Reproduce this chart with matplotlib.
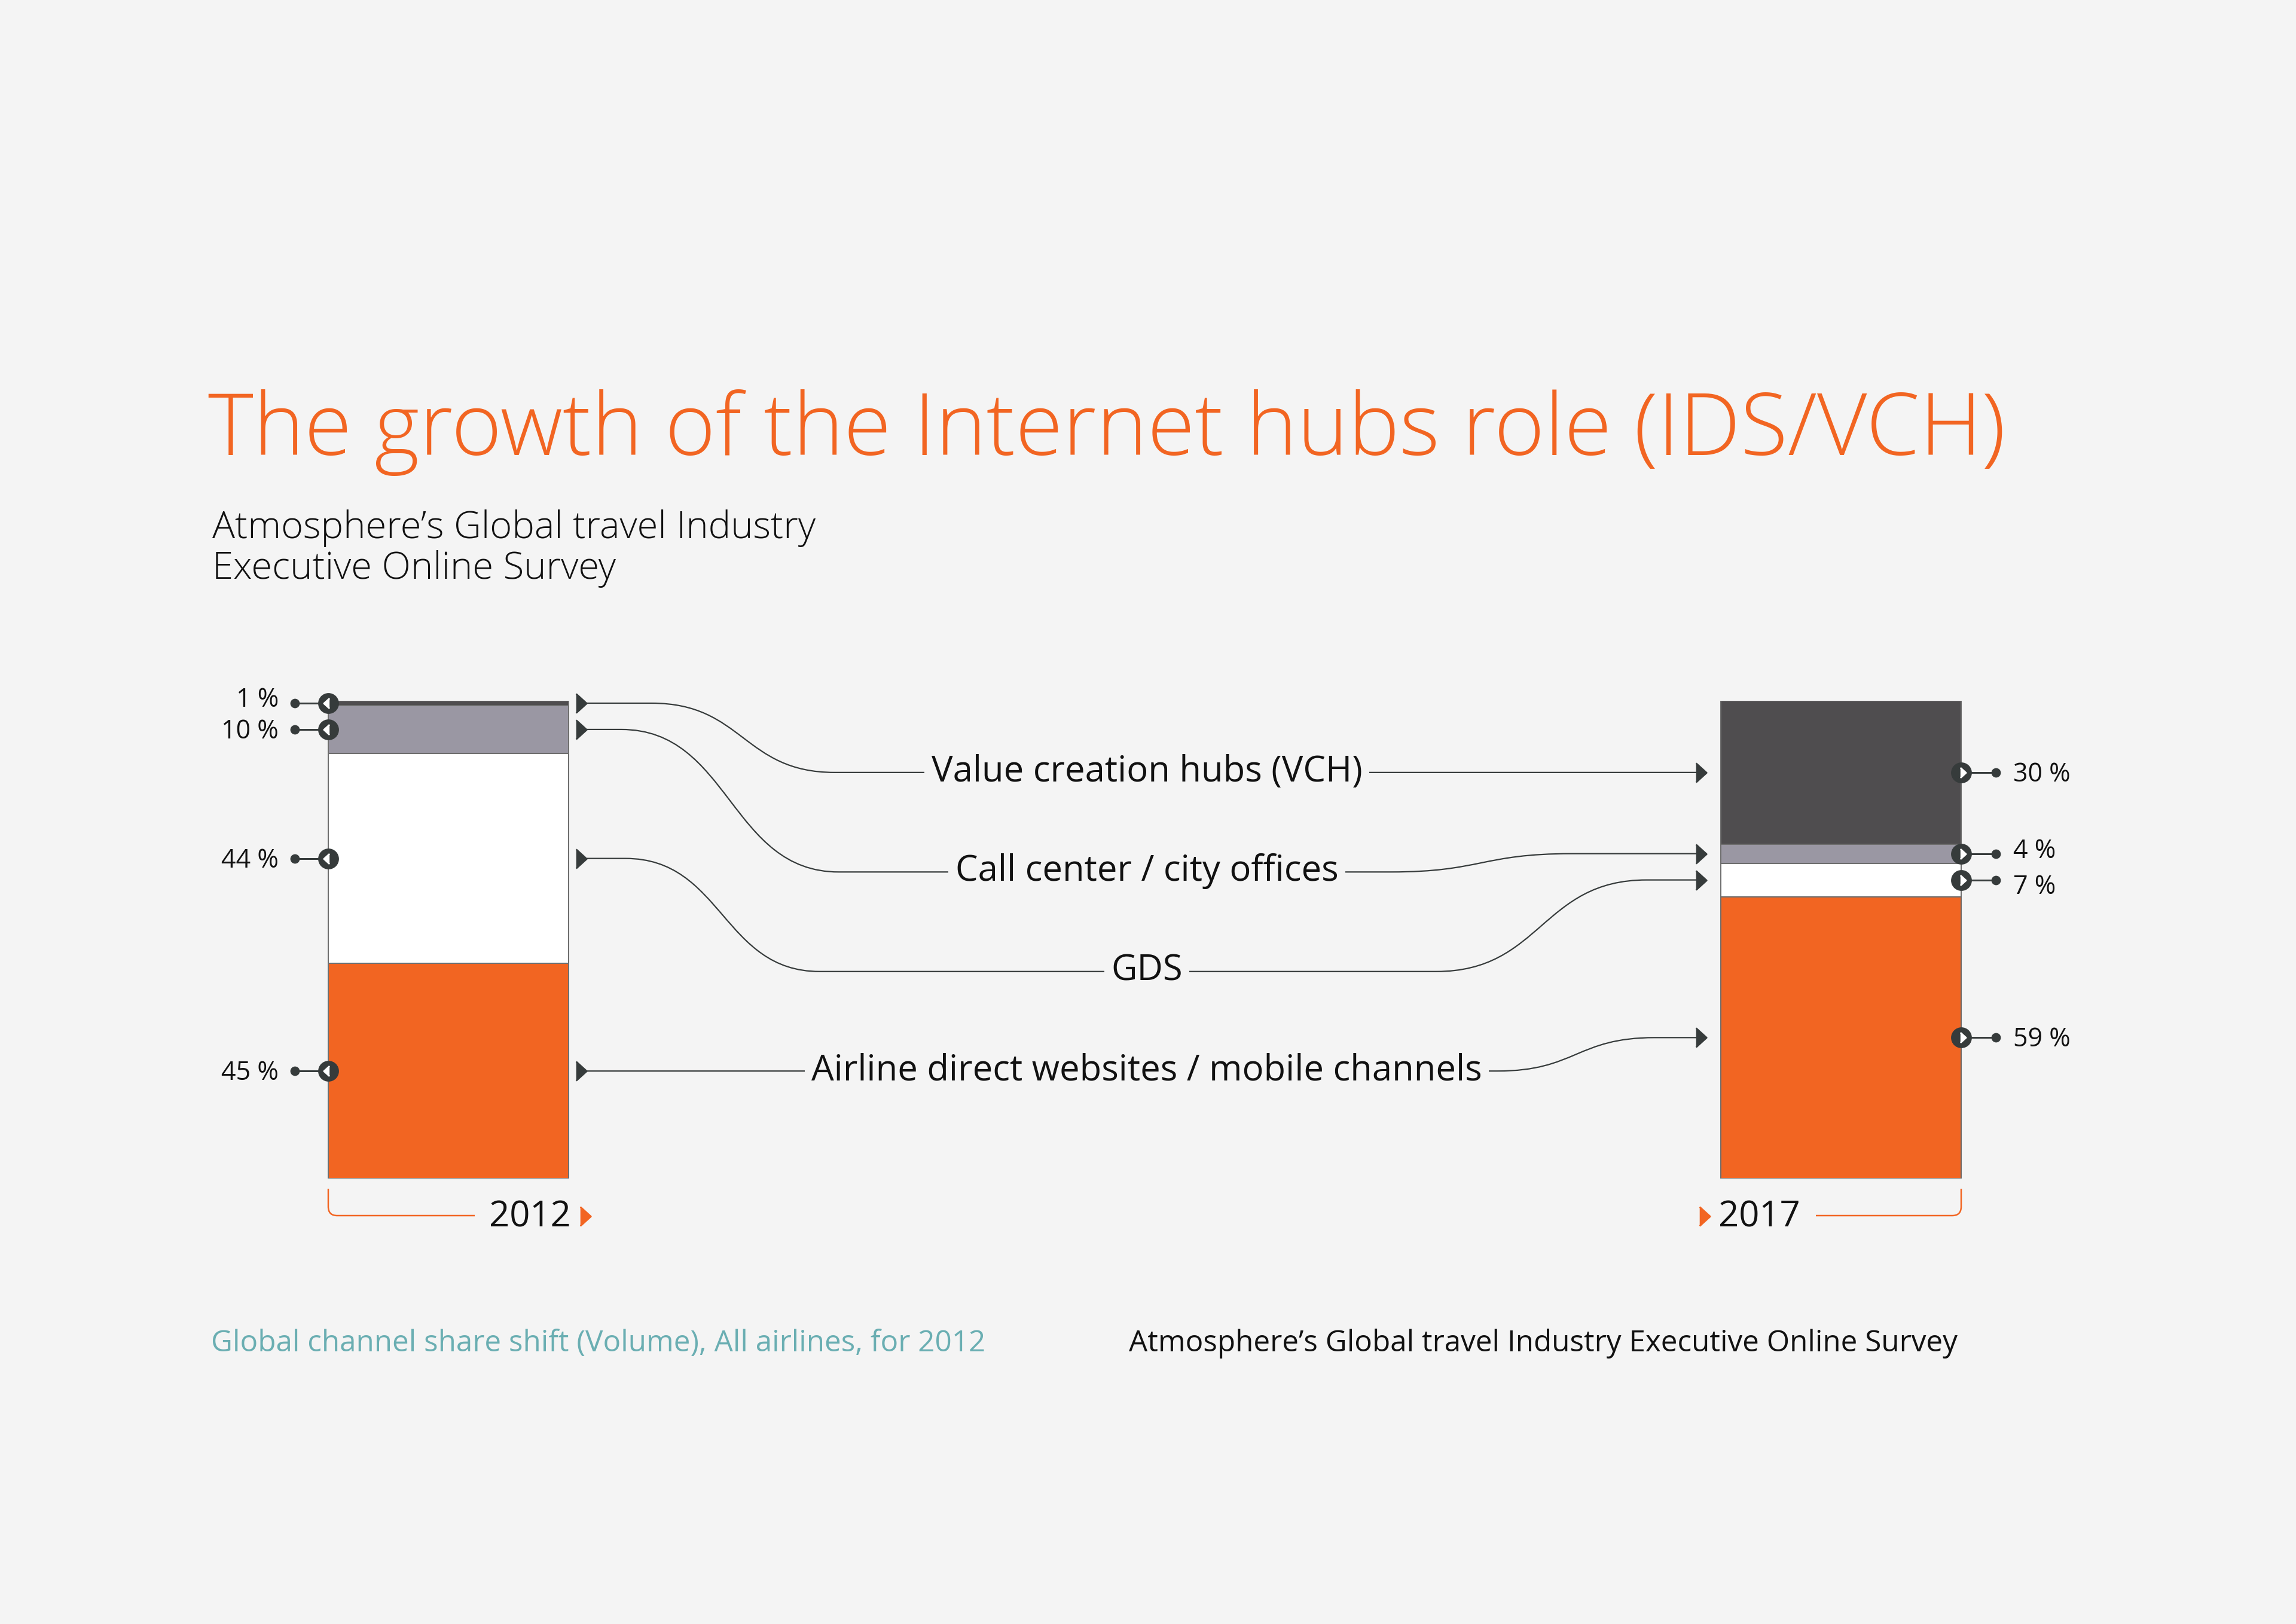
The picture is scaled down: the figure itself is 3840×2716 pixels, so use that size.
import numpy as np
import matplotlib.pyplot as plt
from matplotlib.path import Path
from matplotlib.patches import PathPatch

# data
years = ["2012", "2017"]
channels = ["Airline direct websites / mobile channels", "GDS",
            "Call center / city offices", "Value creation hubs (VCH)"]
share_2012 = [45, 44, 10, 1]
share_2017 = [59, 7, 4, 30]
seg_colors = ["#f26522", "#ffffff", "#9a97a3", "#4f4d4f"]

title = "The growth of the Internet hubs role (IDS/VCH)"
subtitle = ["Atmosphere\u2019s Global travel Industry", "Executive Online Survey"]
foot_left = "Global channel share shift (Volume), All airlines, for 2012"
foot_right = "Atmosphere\u2019s Global travel Industry Executive Online Survey"

W, H, DPI = 3840, 2716, 200
BG = "#f4f4f4"
DARK = "#363b3b"
ORANGE = "#f26522"
FONT = "Open Sans"

bar_left = [549, 2878]
bar_w = 402
bar_top, bar_bot = 1172, 1971


def pt(px):
    return px * 72.0 / DPI


fig = plt.figure(figsize=(W / DPI, H / DPI), dpi=DPI, facecolor=BG)
ax = fig.add_axes([0, 0, 1, 1])
ax.set_xlim(0, W)
ax.set_ylim(H, 0)
ax.axis('off')
bx = fig.add_axes([0, (H - bar_bot) / H, 1, (bar_bot - bar_top) / H])
bx.set_xlim(0, W)
bx.set_ylim(0, 100)
bx.axis('off')

# stacked bars
centers = []
for xl, vals in zip(bar_left, [share_2012, share_2017]):
    vals = np.array(vals, dtype=float)
    bottoms = np.concatenate([[0], np.cumsum(vals)[:-1]])
    bx.bar([xl + bar_w / 2] * len(vals), vals, bottom=bottoms, width=bar_w,
           color=seg_colors, edgecolor="#6e6e6e", linewidth=pt(2), zorder=2)
    centers.append(bottoms + vals / 2)
c12, c17 = centers

tri_l = [(0.55, -1), (-0.55, 0), (0.55, 1)]
tri_r = [(-0.55, -1), (0.55, 0), (-0.55, 1)]

# value markers on the outer sides
nudge_12 = [0, 0, 0, 1.1]
nudge_17 = [0, -1.1, 0.9, 0]
for side in range(2):
    cs = c12 if side == 0 else c17
    vals = share_2012 if side == 0 else share_2017
    nud = nudge_12 if side == 0 else nudge_17
    edge = bar_left[0] if side == 0 else bar_left[1] + bar_w
    dot = edge - 56 if side == 0 else edge + 58
    for c, v, n in zip(cs, vals, nud):
        bx.plot([dot, edge], [c, c], color=DARK, lw=pt(3), zorder=4, clip_on=False)
        bx.plot(dot, c, 'o', ms=pt(13), color=DARK, zorder=4, clip_on=False)
        bx.plot(edge, c, 'o', ms=pt(32), color=DARK, zorder=5, clip_on=False)
        bx.plot(edge - 3 if side == 0 else edge + 3, c,
                marker=tri_l if side == 0 else tri_r, ms=pt(17),
                color='white', zorder=6, clip_on=False)
        if side == 0:
            bx.annotate(f"{v} %", (dot - 27, c + n), xytext=(0, -pt(15)),
                        textcoords='offset points', ha='right', va='baseline',
                        fontsize=15.5, family=FONT, color='#111111',
                        annotation_clip=False)
        else:
            bx.annotate(f"{v} %", (dot + 29, c + n), xytext=(0, -pt(15)),
                        textcoords='offset points', ha='left', va='baseline',
                        fontsize=15.5, family=FONT, color='#111111',
                        annotation_clip=False)

# connectors between the two bars
row_y = np.linspace(c17[3], c12[0], 4)
order = [3, 2, 1, 0]
left_curve = [(1090, 1396), (1039, 1403), (1046, 1371), (1060, 1330)]
right_curve = [(2400, 2700), (2326, 2629), (2402, 2754), (2504, 2768)]
x_start, x_end = 982, 2840
text_x = 1918


def s_curve(x0, y0, x1, y1):
    k = 0.5 * (x1 - x0)
    return [(x0 + k, y0), (x1 - k, y1), (x1, y1)]


for r, k in enumerate(order):
    y0, ym, y1 = c12[k], row_y[r], c17[k]
    (a0, a1), (b0, b1) = left_curve[r], right_curve[r]
    verts = [(x_start, y0), (a0, y0)] + s_curve(a0, y0, a1, ym) + [(b0, ym)] \
        + s_curve(b0, ym, b1, y1) + [(x_end, y1)]
    codes = [Path.MOVETO, Path.LINETO, Path.CURVE4, Path.CURVE4, Path.CURVE4,
             Path.LINETO, Path.CURVE4, Path.CURVE4, Path.CURVE4, Path.LINETO]
    bx.add_patch(PathPatch(Path(verts, codes), fc='none', ec=DARK, lw=pt(2.2),
                           zorder=3, clip_on=False))
    bx.plot(972, y0, marker=tri_r, ms=pt(32), color=DARK, zorder=4, clip_on=False)
    bx.plot(2845, y1, marker=tri_r, ms=pt(32), color=DARK, zorder=4, clip_on=False)
    bx.annotate(channels[k], (text_x, ym), xytext=(0, -pt(15)),
                textcoords='offset points', ha='center', va='baseline',
                fontsize=21.5, family=FONT, color='#111111', zorder=5,
                bbox=dict(fc=BG, ec='none', pad=4))

# titles
ax.text(348, 761, title, fontsize=52, family=FONT, fontweight='light',
        color=ORANGE, ha='left', va='baseline')
for i, line in enumerate(subtitle):
    ax.text(355, 900 + 68 * i, line, fontsize=22.8, family=FONT, fontweight='light',
            color='#111111', ha='left', va='baseline')

# year labels with brackets
ax.text(955, 2052, years[0], fontsize=21.5, family=FONT, ha='right', va='baseline',
        color='#111111')
ax.plot(979, 2034, marker=tri_r, ms=pt(32), color=ORANGE)
ax.text(2874, 2052, years[1], fontsize=21.5, family=FONT, ha='left', va='baseline',
        color='#111111')
ax.plot(2851, 2034, marker=tri_r, ms=pt(32), color=ORANGE)

xl = bar_left[0]
xr = bar_left[1] + bar_w
br_l = Path([(xl, 1988), (xl, 2018), (xl, 2033), (xl + 15, 2033), (794, 2033)],
            [Path.MOVETO, Path.LINETO, Path.CURVE3, Path.CURVE3, Path.LINETO])
br_r = Path([(3037, 2033), (xr - 15, 2033), (xr, 2033), (xr, 2018), (xr, 1988)],
            [Path.MOVETO, Path.LINETO, Path.CURVE3, Path.CURVE3, Path.LINETO])
for p in (br_l, br_r):
    ax.add_patch(PathPatch(p, fc='none', ec=ORANGE, lw=pt(2.5)))

# footer
ax.text(353, 2260, foot_left, fontsize=17.8, family=FONT, color='#6aaeb2',
        ha='left', va='baseline')
ax.text(1888, 2260, foot_right, fontsize=17.8, family=FONT, color='#111111',
        ha='left', va='baseline')

fig.savefig("out.png", dpi=DPI, facecolor=BG)
